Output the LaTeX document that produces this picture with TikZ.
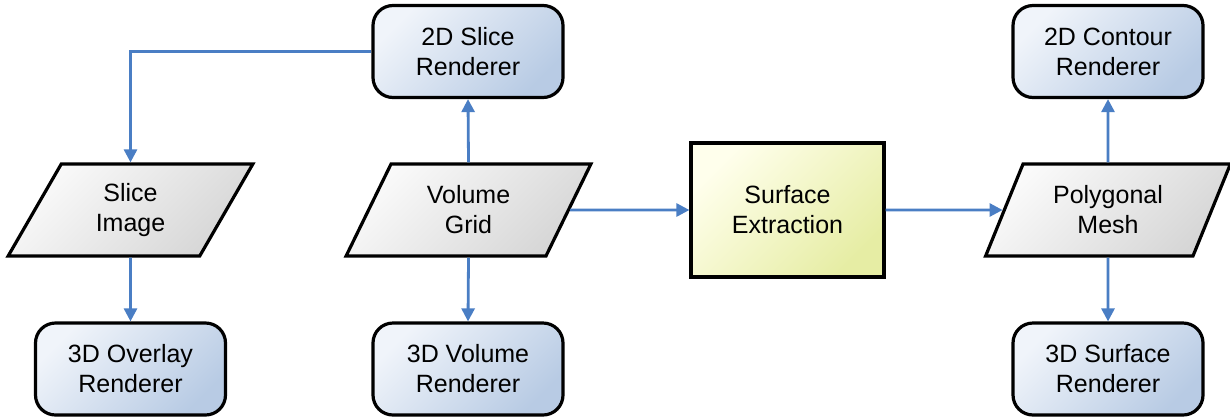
\documentclass[tikz,border=0pt]{standalone}
\usepackage{fontspec}
\setmainfont{Liberation Sans}
\usetikzlibrary{shapes.geometric,arrows.meta}
\definecolor{flowblue}{HTML}{4A7EC4}
\definecolor{rbLight}{HTML}{F0F4FA}
\definecolor{rbDark}{HTML}{B8CBE4}
\definecolor{pgLight}{HTML}{FAFAFA}
\definecolor{pgDark}{HTML}{D6D6D6}
\definecolor{yeLight}{HTML}{FFFFEC}
\definecolor{yeDark}{HTML}{E6EDA4}
\tikzset{
  txt/.style={font=\fontsize{25}{30}\selectfont, align=center, text=black},
  rbox/.style={txt, draw=black, line width=3.2pt, rounded corners=20pt,
    minimum width=190pt, minimum height=92pt, inner sep=0pt,
    top color=rbLight, bottom color=rbDark, shading angle=45},
  pbox/.style={txt, draw=black, line width=3.2pt, trapezium,
    trapezium left angle=63.43, trapezium right angle=116.57,
    trapezium stretches=true, minimum width=245pt, minimum height=92pt, inner sep=0pt,
    top color=pgLight, bottom color=pgDark, shading angle=45},
  ybox/.style={txt, draw=black, line width=3.2pt,
    minimum width=193pt, minimum height=134pt, inner sep=0pt,
    top color=yeLight, bottom color=yeDark, shading angle=45},
  flow/.style={draw=flowblue, line width=2.8pt, -{Triangle[length=13pt,width=13pt]}}
}
\begin{document}
\begin{tikzpicture}[x=1pt,y=1pt]
\useasboundingbox (0,0) rectangle (1230,-416);
\node[rbox] (s2d) at (468,-51.5) {2D Slice\\Renderer};
\node[rbox] (o3d) at (130.5,-369) {3D Overlay\\Renderer};
\node[rbox] (v3d) at (468,-369) {3D Volume\\Renderer};
\node[rbox] (c2d) at (1108,-51.5) {2D Contour\\Renderer};
\node[rbox] (s3d) at (1108,-369) {3D Surface\\Renderer};
\node[pbox] (si) at (130.5,-210) {Slice\\Image};
\node[pbox] (vg) at (468.5,-210) {Volume\\Grid};
\node[pbox] (pm) at (1108,-210) {Polygonal\\Mesh};
\node[ybox] (se) at (787.5,-210) {Surface\\Extraction};
\draw[flow] (s2d.west) -| (si.north);
\draw[flow] (si.south) -- (o3d.north);
\draw[flow] (vg.north) -- (s2d.south);
\draw[flow] (vg.south) -- (v3d.north);
\draw[flow] (vg.east) -- (se.west);
\draw[flow] (se.east) -- (pm.west);
\draw[flow] (pm.north) -- (c2d.south);
\draw[flow] (pm.south) -- (s3d.north);
\end{tikzpicture}
\end{document}
